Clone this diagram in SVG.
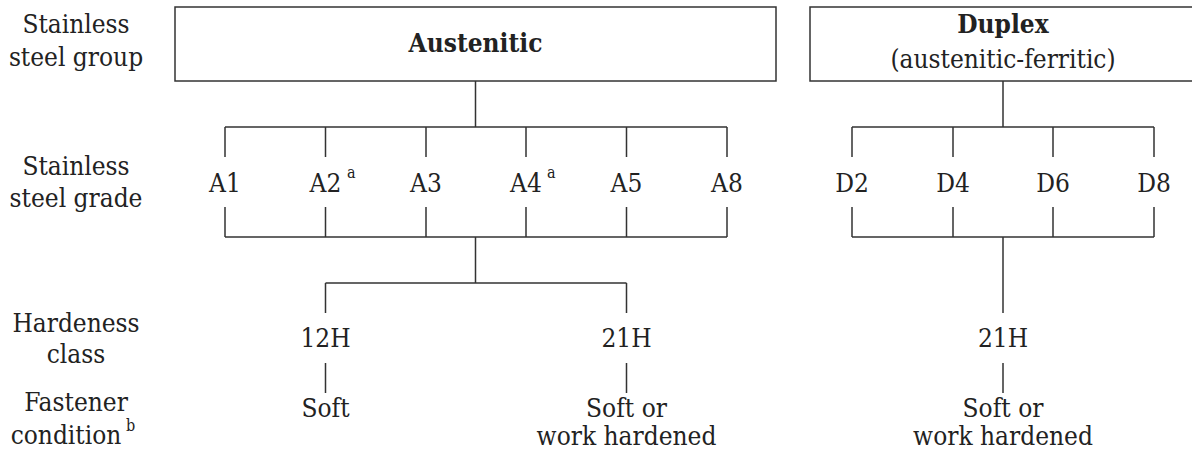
<svg xmlns="http://www.w3.org/2000/svg" width="1192" height="454" viewBox="0 0 1192 454">
<style>
text{font-family:"DejaVu Serif Condensed","DejaVu Serif","Liberation Serif",serif;font-stretch:condensed;font-size:26px;fill:#222;text-anchor:middle}
.b{font-weight:bold}
.sup{font-size:16px;text-anchor:start}
.box{fill:#fff;stroke:#333;stroke-width:1.5}
.ln{stroke:#333;stroke-width:1.5;fill:none}
</style>
<rect width="1192" height="454" fill="#fff"/>
<g id="row-labels">
<text x="76" y="33">Stainless</text>
<text x="76" y="66">steel group</text>
<text x="76" y="175">Stainless</text>
<text x="76" y="207">steel grade</text>
<text x="76" y="332">Hardeness</text>
<text x="76" y="363">class</text>
<text x="76" y="411">Fastener</text>
<text x="66" y="444">condition</text><text class="sup" x="126" y="431">b</text>
</g>
<g id="austenitic">
<rect class="box" x="175" y="7" width="601" height="74"/>
<text class="b" x="475.5" y="52">Austenitic</text>
</g>
<g id="duplex">
<rect class="box" x="810" y="7" width="390" height="74"/>
<text class="b" x="1003" y="33">Duplex</text>
<text x="1003" y="68">(austenitic-ferritic)</text>
</g>
<g id="A1"><text x="225" y="192">A1</text></g>
<g id="A2"><text x="325.5" y="192">A2</text><text class="sup" x="347" y="178">a</text></g>
<g id="A3"><text x="426" y="192">A3</text></g>
<g id="A4"><text x="526" y="192">A4</text><text class="sup" x="547" y="178">a</text></g>
<g id="A5"><text x="626.5" y="192">A5</text></g>
<g id="A8"><text x="727" y="192">A8</text></g>
<g id="D2"><text x="852" y="192">D2</text></g>
<g id="D4"><text x="953" y="192">D4</text></g>
<g id="D6"><text x="1053" y="192">D6</text></g>
<g id="D8"><text x="1154" y="192">D8</text></g>
<g id="h12H"><text x="325.5" y="347">12H</text></g>
<g id="h21H-a"><text x="626.5" y="347">21H</text></g>
<g id="h21H-d"><text x="1003" y="347">21H</text></g>
<g id="soft"><text x="325.5" y="417">Soft</text></g>
<g id="soft-work-a"><text x="626.5" y="417">Soft or</text><text x="626.5" y="445">work hardened</text></g>
<g id="soft-work-d"><text x="1003" y="417">Soft or</text><text x="1003" y="445">work hardened</text></g>
<g id="connectors" class="ln">
<path class="ln" d="M475.5 81V127M225 127H727M225 127V157M325.5 127V157M426 127V157M526 127V157M626.5 127V157M727 127V157"/>
<path class="ln" d="M225 207V237M325.5 207V237M426 207V237M526 207V237M626.5 207V237M727 207V237M225 237H727M475.5 237V283M325.5 283H626.5M325.5 283V313M626.5 283V313"/>
<path class="ln" d="M325.5 363V393M626.5 363V393"/>
<path class="ln" d="M1003 81V127M852 127H1154M852 127V157M953 127V157M1053 127V157M1154 127V157"/>
<path class="ln" d="M852 207V237M953 207V237M1053 207V237M1154 207V237M852 237H1154M1003 237V313M1003 363V393"/>
</g>
</svg>
